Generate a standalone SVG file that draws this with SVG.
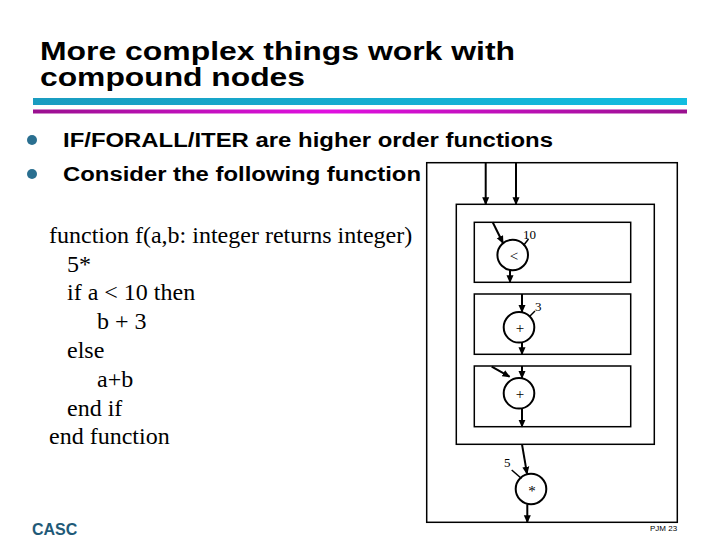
<svg xmlns="http://www.w3.org/2000/svg" width="720" height="540" viewBox="0 0 720 540">
<defs>
<linearGradient id="cyan" x1="0" y1="0" x2="1" y2="0">
<stop offset="0" stop-color="#1a9cc0"/><stop offset="1" stop-color="#12bde0"/>
</linearGradient>
<linearGradient id="mag" x1="0" y1="0" x2="1" y2="0">
<stop offset="0" stop-color="#9a108f"/><stop offset="0.45" stop-color="#e010e0"/><stop offset="1" stop-color="#9a108f"/>
</linearGradient>
<marker id="ah" markerWidth="8" markerHeight="8" refX="7" refY="4" orient="auto" markerUnits="userSpaceOnUse">
<path d="M0,0.5 L8,4 L0,7.5 Z" fill="#000"/>
</marker>
<style>
.title{font-family:"Liberation Sans",Arial,sans-serif;font-weight:bold;font-size:25px;fill:#000}
.bul{font-family:"Liberation Sans",Arial,sans-serif;font-weight:bold;font-size:20px;fill:#000}
.code{font-family:"Liberation Serif","Times New Roman",serif;font-size:24px;fill:#000}
.sm{font-family:"Liberation Serif","Times New Roman",serif;font-size:13px;fill:#000}
.sym{font-family:"Liberation Serif","Times New Roman",serif;font-size:15px;fill:#000}
.box{fill:none;stroke:#000;stroke-width:1.5}
.node{fill:#fff;stroke:#000;stroke-width:2}
.edge{stroke:#000;stroke-width:2;fill:none;marker-end:url(#ah)}
.stub{stroke:#000;stroke-width:1.5;fill:none}
</style>
</defs>
<rect width="720" height="540" fill="#fff"/>
<text class="title" x="40" y="60" textLength="475" lengthAdjust="spacingAndGlyphs">More complex things work with</text>
<text class="title" x="40" y="86" textLength="265" lengthAdjust="spacingAndGlyphs">compound nodes</text>
<rect x="33" y="98" width="654" height="7" fill="url(#cyan)"/>
<rect x="33" y="109.5" width="654" height="4" fill="url(#mag)"/>
<circle cx="32" cy="140" r="5" fill="#2a6f90"/>
<circle cx="32" cy="174" r="5" fill="#2a6f90"/>
<text class="bul" x="63" y="147" textLength="490" lengthAdjust="spacingAndGlyphs">IF/FORALL/ITER are higher order functions</text>
<text class="bul" x="63" y="181" textLength="358" lengthAdjust="spacingAndGlyphs">Consider the following function</text>
<g id="code">
<text class="code" x="49" y="243">function f(a,b: integer returns integer)</text>
<text class="code" x="67" y="272">5*</text>
<text class="code" x="67" y="300">if a &lt; 10 then</text>
<text class="code" x="97" y="329">b + 3</text>
<text class="code" x="67" y="358">else</text>
<text class="code" x="97" y="387">a+b</text>
<text class="code" x="67" y="416">end if</text>
<text class="code" x="49" y="444">end function</text>
</g>
<g id="outer"><rect class="box" x="426.7" y="162.7" width="250.6" height="359.6"/></g>
<g id="inner"><rect class="box" x="456.3" y="204.3" width="198" height="240"/></g>
<g id="box1"><rect class="box" x="474.3" y="222.3" width="156.4" height="60"/></g>
<g id="box2"><rect class="box" x="474.3" y="294" width="156.4" height="60.3"/></g>
<g id="box3"><rect class="box" x="474.3" y="366" width="156.4" height="60.7"/></g>
<g id="lt"><circle class="node" cx="512.7" cy="255" r="15.3"/><text class="sym" x="514" y="261" text-anchor="middle">&lt;</text></g>
<g id="plus1"><circle class="node" cx="519" cy="327.3" r="15.3"/><text class="sym" x="520" y="333" text-anchor="middle">+</text></g>
<g id="plus2"><circle class="node" cx="519" cy="393.3" r="15.3"/><text class="sym" x="520" y="399" text-anchor="middle">+</text></g>
<g id="mul"><circle class="node" cx="531" cy="489" r="15.3"/><text class="sym" x="532" y="496" text-anchor="middle">*</text></g>
<g id="connectors">
<line class="edge" x1="485.7" y1="162.7" x2="485.7" y2="204.3"/>
<line class="edge" x1="516" y1="162.7" x2="516" y2="204.3"/>
<line class="edge" x1="492.7" y1="222.3" x2="503" y2="243"/>
<line class="stub" x1="528.5" y1="239" x2="523.5" y2="245.5"/>
<line class="edge" x1="510" y1="270.3" x2="510" y2="282.3"/>
<line class="edge" x1="522" y1="294" x2="522" y2="312"/>
<line class="stub" x1="535" y1="311" x2="529.5" y2="316.5"/>
<line class="edge" x1="522" y1="342.6" x2="522" y2="354.3"/>
<line class="edge" x1="522" y1="366" x2="522" y2="378"/>
<line class="edge" x1="491.7" y1="366.7" x2="509.5" y2="376.7"/>
<line class="edge" x1="522" y1="408.6" x2="522" y2="426.7"/>
<line class="edge" x1="522" y1="444.3" x2="527" y2="473.7"/>
<line class="stub" x1="511.7" y1="470" x2="521.5" y2="478.5"/>
<line class="edge" x1="527.3" y1="504.3" x2="527.3" y2="522.3"/>
</g>
<text class="sm" x="523" y="239">10</text>
<text class="sm" x="535" y="311">3</text>
<text class="sm" x="504" y="467">5</text>
<text x="32" y="535" font-family="Liberation Sans,Arial,sans-serif" font-weight="bold" font-size="16" fill="#1f5a78">CASC</text>
<text x="650" y="531" font-family="Liberation Sans,Arial,sans-serif" font-size="8" fill="#000">PJM  23</text>
</svg>
